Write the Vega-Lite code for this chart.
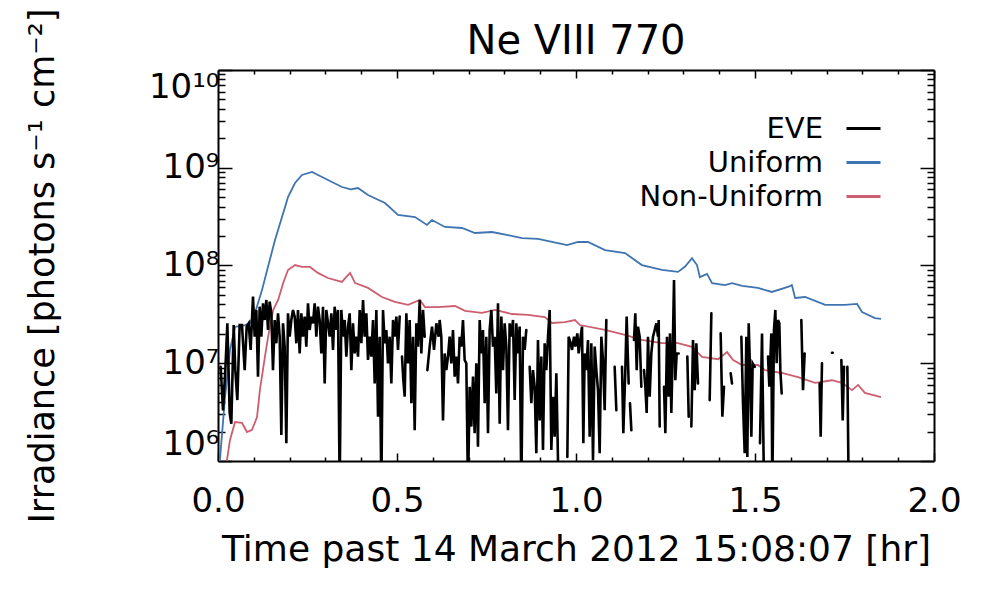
{
  "$schema": "https://vega.github.io/schema/vega-lite/v6.json",
  "width": 716,
  "height": 391,
  "autosize": {"type": "none"},
  "padding": {"left": 218, "top": 70, "right": 66, "bottom": 139},
  "background": "white",
  "title": {"text": "Ne VIII 770", "fontSize": 40, "fontWeight": "normal", "font": "DejaVu Sans", "anchor": "middle", "offset": 16, "dy": 70, "color": "black"},
  "config": {
    "font": "DejaVu Sans",
    "view": {"stroke": null},
    "axis": {"grid": false, "domainColor": "black", "tickColor": "black", "labelColor": "black", "titleColor": "black", "labelFont": "DejaVu Sans", "titleFont": "DejaVu Sans", "titleFontWeight": "normal"}
  },
  "datasets": {
    "uni": [
      {"t":0.003,"v":8e5},{"t":0.0196,"v":4.5e6},{"t":0.0335,"v":1.37e7},{"t":0.0475,"v":2.35e7},{"t":0.0754,"v":2.46e7},{"t":0.0894,"v":2.58e7},{"t":0.1034,"v":3.27e7},{"t":0.1229,"v":5.6e7},{"t":0.1397,"v":9.7e7},{"t":0.1592,"v":1.82e8},{"t":0.1788,"v":3.13e8},{"t":0.1955,"v":5.0e8},{"t":0.2151,"v":6.98e8},{"t":0.2346,"v":8.43e8},{"t":0.2626,"v":9.05e8},{"t":0.2905,"v":8.04e8},{"t":0.3184,"v":7.15e8},{"t":0.3464,"v":6.35e8},{"t":0.37,"v":6.0e8},{"t":0.391,"v":6.2e8},{"t":0.419,"v":5.26e8},{"t":0.4665,"v":4.36e8},{"t":0.5028,"v":3.29e8},{"t":0.5503,"v":3.13e8},{"t":0.5838,"v":2.6e8},{"t":0.5978,"v":2.92e8},{"t":0.634,"v":2.48e8},{"t":0.6816,"v":2.42e8},{"t":0.7179,"v":2.15e8},{"t":0.7654,"v":2.2e8},{"t":0.81,"v":2.05e8},{"t":0.8492,"v":1.91e8},{"t":0.8939,"v":1.87e8},{"t":0.933,"v":1.74e8},{"t":0.975,"v":1.62e8},{"t":1.0056,"v":1.74e8},{"t":1.0335,"v":1.74e8},{"t":1.081,"v":1.44e8},{"t":1.137,"v":1.34e8},{"t":1.184,"v":1.01e8},{"t":1.24,"v":9.0e7},{"t":1.285,"v":8.6e7},{"t":1.304,"v":9.7e7},{"t":1.324,"v":1.19e8},{"t":1.338,"v":1.01e8},{"t":1.346,"v":7.6e7},{"t":1.366,"v":8.2e7},{"t":1.38,"v":6.6e7},{"t":1.416,"v":6.3e7},{"t":1.436,"v":6.6e7},{"t":1.464,"v":6.2e7},{"t":1.508,"v":5.9e7},{"t":1.547,"v":5.36e7},{"t":1.592,"v":6.03e7},{"t":1.603,"v":6.3e7},{"t":1.612,"v":4.65e7},{"t":1.64,"v":4.76e7},{"t":1.696,"v":3.95e7},{"t":1.751,"v":3.95e7},{"t":1.785,"v":4.04e7},{"t":1.799,"v":3.34e7},{"t":1.835,"v":2.9e7},{"t":1.852,"v":2.84e7}
    ],
    "non": [
      {"t":0.018,"v":8e5},{"t":0.025,"v":1.02e6},{"t":0.0335,"v":1.64e6},{"t":0.0475,"v":2.5e6},{"t":0.067,"v":2.45e6},{"t":0.081,"v":1.98e6},{"t":0.095,"v":2.08e6},{"t":0.109,"v":2.82e6},{"t":0.117,"v":5.3e6},{"t":0.131,"v":1.16e7},{"t":0.14,"v":1.86e7},{"t":0.154,"v":3.5e7},{"t":0.168,"v":4.44e7},{"t":0.182,"v":6.6e7},{"t":0.1955,"v":9.0e7},{"t":0.215,"v":1.01e8},{"t":0.2346,"v":9.66e7},{"t":0.257,"v":9.66e7},{"t":0.279,"v":8.4e7},{"t":0.307,"v":7.45e7},{"t":0.346,"v":6.8e7},{"t":0.369,"v":8.4e7},{"t":0.383,"v":6.6e7},{"t":0.419,"v":5.9e7},{"t":0.458,"v":4.76e7},{"t":0.494,"v":4.24e7},{"t":0.531,"v":3.95e7},{"t":0.564,"v":4.44e7},{"t":0.578,"v":3.76e7},{"t":0.6145,"v":3.76e7},{"t":0.662,"v":3.85e7},{"t":0.69,"v":3.43e7},{"t":0.737,"v":3.27e7},{"t":0.774,"v":3.51e7},{"t":0.821,"v":3.19e7},{"t":0.866,"v":3.12e7},{"t":0.913,"v":2.97e7},{"t":0.933,"v":2.58e7},{"t":0.969,"v":2.64e7},{"t":0.997,"v":2.77e7},{"t":1.011,"v":2.46e7},{"t":1.081,"v":2.19e7},{"t":1.137,"v":1.95e7},{"t":1.184,"v":1.73e7},{"t":1.24,"v":1.61e7},{"t":1.285,"v":1.61e7},{"t":1.324,"v":1.47e7},{"t":1.352,"v":1.16e7},{"t":1.397,"v":1.1e7},{"t":1.422,"v":1.3e7},{"t":1.439,"v":1.08e7},{"t":1.464,"v":9.6e6},{"t":1.508,"v":9.6e6},{"t":1.528,"v":8.5e6},{"t":1.575,"v":7.95e6},{"t":1.62,"v":7.2e6},{"t":1.668,"v":6.3e6},{"t":1.715,"v":6.7e6},{"t":1.743,"v":6.3e6},{"t":1.771,"v":5.3e6},{"t":1.788,"v":6.0e6},{"t":1.807,"v":4.97e6},{"t":1.852,"v":4.5e6}
    ],
    "eve": [
      {"t":0.0074,"v":9.2e6},{"t":0.014,"v":3.3e6},{"t":0.0205,"v":8.5e6},{"t":0.0261,"v":2.56e7},{"t":0.0326,"v":3.1e6},{"t":0.0372,"v":2.4e6},{"t":0.0438,"v":2.46e7},{"t":0.0484,"v":8.5e6},{"t":0.054,"v":4.2e6},{"t":0.0605,"v":2.46e7},{"t":0.067,"v":2.46e7},{"t":0.0745,"v":8.5e6},{"t":0.0801,"v":2.37e7},{"t":0.0857,"v":2.56e7},{"t":0.0912,"v":1.37e7},{"t":0.0978,"v":4.8e7},{"t":0.1024,"v":1.87e7},{"t":0.1071,"v":3.51e7},{"t":0.1117,"v":7.3e6},{"t":0.1164,"v":3.79e7},{"t":0.121,"v":1.87e7},{"t":0.1257,"v":4.1e7},{"t":0.1304,"v":2.77e7},{"t":0.135,"v":4.44e7},{"t":0.1397,"v":2.19e7},{"t":0.1443,"v":4.27e7},{"t":0.149,"v":3.24e7},{"t":0.1536,"v":8.5e6},{"t":0.1583,"v":2.77e7},{"t":0.1629,"v":1.6e7},{"t":0.1676,"v":3.24e7},{"t":0.1723,"v":1.87e7},{"t":0.1769,"v":1.85e6},{"t":0.1816,"v":2.56e7},{"t":0.1862,"v":1.48e7},{"t":0.1909,"v":1.52e6},{"t":0.1955,"v":3.24e7},{"t":0.2002,"v":1.87e7},{"t":0.2048,"v":2.77e7},{"t":0.2095,"v":3.51e7},{"t":0.2142,"v":3.0e7},{"t":0.2188,"v":1.6e7},{"t":0.2235,"v":3.51e7},{"t":0.2281,"v":1.26e7},{"t":0.2328,"v":3.24e7},{"t":0.2374,"v":1.87e7},{"t":0.2421,"v":3.0e7},{"t":0.2467,"v":1.48e7},{"t":0.2514,"v":4.1e7},{"t":0.2561,"v":2.19e7},{"t":0.2607,"v":3.0e7},{"t":0.2654,"v":2.56e7},{"t":0.27,"v":4.1e7},{"t":0.2747,"v":1.87e7},{"t":0.2793,"v":3.79e7},{"t":0.284,"v":2.77e7},{"t":0.2886,"v":1.26e7},{"t":0.2933,"v":3.79e7},{"t":0.298,"v":6.2e6},{"t":0.3026,"v":3.51e7},
      {"t":0.312,"v":1.87e7},{"t":0.3166,"v":3.24e7},{"t":0.3213,"v":1.37e7},{"t":0.3259,"v":3.79e7},{"t":0.3306,"v":2.19e7},{"t":0.3352,"v":3.51e7},{"t":0.3399,"v":5e5},{"t":0.3445,"v":3.51e7},{"t":0.3492,"v":1.87e7},{"t":0.3539,"v":2.77e7},{"t":0.3585,"v":1.17e7},{"t":0.3632,"v":2.37e7},{"t":0.3678,"v":3.24e7},{"t":0.3725,"v":8.5e6},{"t":0.3771,"v":2.56e7},{"t":0.3818,"v":1.26e7},{"t":0.3864,"v":1.87e7},{"t":0.3911,"v":1.17e7},{"t":0.3958,"v":3.51e7},{"t":0.4004,"v":1.6e7},{"t":0.4051,"v":4.44e7},{"t":0.4097,"v":1.87e7},{"t":0.4144,"v":3.24e7},{"t":0.419,"v":1.08e7},{"t":0.4237,"v":1.87e7},{"t":0.4283,"v":1.17e7},{"t":0.433,"v":2.77e7},{"t":0.4377,"v":6.2e6},{"t":0.4423,"v":3.51e7},{"t":0.447,"v":2.84e6},{"t":0.4516,"v":1.87e7},{"t":0.4563,"v":5e5},{"t":0.4609,"v":3.51e7},{"t":0.4656,"v":1.6e7},{"t":0.4702,"v":2.19e7},{"t":0.4749,"v":9.98e6},{"t":0.4796,"v":1.87e7},{"t":0.4842,"v":6.2e6},{"t":0.4889,"v":2.77e7},{"t":0.4935,"v":1.87e7},{"t":0.4982,"v":3.0e7},{"t":0.5028,"v":1.37e7},{"t":0.5075,"v":3.0e7},{"t":0.51,"v":null},{"t":0.514,"v":1.17e7},{"t":0.5177,"v":6.7e6},{"t":0.5215,"v":4.55e6},{"t":0.5261,"v":3.24e7},{"t":0.5308,"v":9.98e6},{"t":0.5354,"v":2.77e7},{"t":0.5401,"v":3.9e6},{"t":0.5447,"v":1.87e7},{"t":0.5494,"v":2.07e6},{"t":0.554,"v":2.56e7},{"t":0.5587,"v":1.48e7},{"t":0.5634,"v":4.44e7},{"t":0.568,"v":1.26e7},{"t":0.5727,"v":3.51e7},{"t":0.5773,"v":1.87e7},{"t":0.58,"v":null},{"t":0.5848,"v":8.5e6},{"t":0.5913,"v":1.48e7},{"t":0.5978,"v":2.37e7},{"t":0.6034,"v":1.37e7},{"t":0.6099,"v":2.56e7},{"t":0.6164,"v":1.87e7},
      {"t":0.6192,"v":2.77e7},{"t":0.6238,"v":1.87e7},{"t":0.6285,"v":2.6e6},{"t":0.6331,"v":1.26e7},{"t":0.6378,"v":8.5e6},{"t":0.6424,"v":1.17e7},{"t":0.6471,"v":1.87e7},{"t":0.6517,"v":9.98e6},{"t":0.6564,"v":2.19e7},{"t":0.6611,"v":7.3e6},{"t":0.6657,"v":1.17e7},{"t":0.6704,"v":6.2e6},{"t":0.675,"v":1.87e7},{"t":0.6797,"v":1.48e7},{"t":0.6843,"v":2.77e7},{"t":0.689,"v":1.08e7},{"t":0.6936,"v":9.98e6},{"t":0.6983,"v":5e5},{"t":0.703,"v":5.75e6},{"t":0.7076,"v":2.25e6},{"t":0.7123,"v":7.3e6},{"t":0.7169,"v":1.92e6},{"t":0.7216,"v":9.98e6},{"t":0.7262,"v":1.4e6},{"t":0.7309,"v":2.77e7},{"t":0.7355,"v":1.26e7},{"t":0.7402,"v":2.19e7},{"t":0.7449,"v":3.9e6},{"t":0.7495,"v":1.87e7},{"t":0.7542,"v":1.92e6},{"t":0.7588,"v":2.19e7},{"t":0.7635,"v":3.51e7},{"t":0.7681,"v":1.48e7},{"t":0.7728,"v":1.87e7},{"t":0.7774,"v":4.9e6},{"t":0.7821,"v":4.1e7},{"t":0.7868,"v":2.4e6},{"t":0.7914,"v":3.0e7},{"t":0.7961,"v":8.5e6},{"t":0.8007,"v":2.56e7},{"t":0.8054,"v":1.48e7},{"t":0.81,"v":2.07e6},{"t":0.8147,"v":2.56e7},{"t":0.8193,"v":1.87e7},{"t":0.824,"v":2.77e7},{"t":0.8287,"v":4.2e6},{"t":0.8333,"v":2.56e7},{"t":0.838,"v":1.26e7},{"t":0.8426,"v":2.37e7},{"t":0.8473,"v":5e5},{"t":0.8519,"v":1.87e7},{"t":0.8566,"v":1.37e7},{"t":0.8612,"v":2.19e7},{"t":0.865,"v":null},{"t":0.8706,"v":9.2e6},{"t":0.8752,"v":3.9e6},{"t":0.8799,"v":8.5e6},{"t":0.8845,"v":5.75e6},{"t":0.8892,"v":1.2e6},{"t":0.8938,"v":1.73e7},{"t":0.8985,"v":2.6e6},{"t":0.9031,"v":1.17e7},{"t":0.9078,"v":1.3e6},{"t":0.9125,"v":1.6e7},{"t":0.9171,"v":8.5e6},{"t":0.9218,"v":1.87e7},
      {"t":0.9265,"v":3.51e7},{"t":0.9311,"v":1.3e6},{"t":0.9358,"v":4.55e6},{"t":0.9404,"v":1.77e6},{"t":0.9451,"v":7.9e6},{"t":0.9497,"v":1.02e6},{"t":0.955,"v":null},{"t":0.9758,"v":1.1e6},{"t":0.9795,"v":1.87e7},{"t":0.9851,"v":1.6e7},{"t":0.9888,"v":1.37e7},{"t":0.9944,"v":1.87e7},{"t":0.9981,"v":1.48e7},{"t":1.0037,"v":2.02e7},{"t":1.0075,"v":1.26e7},{"t":1.013,"v":1.87e7},{"t":1.0168,"v":2.37e7},{"t":1.0205,"v":1.52e6},{"t":1.0242,"v":1.26e7},{"t":1.0289,"v":8.5e6},{"t":1.0335,"v":1.73e7},{"t":1.0382,"v":1.77e6},{"t":1.0428,"v":1.6e7},{"t":1.0475,"v":1.02e6},{"t":1.0522,"v":1.48e7},{"t":1.0568,"v":8.5e6},{"t":1.0615,"v":5.3e6},{"t":1.0661,"v":1.2e6},{"t":1.0708,"v":1.87e7},{"t":1.0754,"v":1.08e7},{"t":1.0801,"v":3.3e6},{"t":1.0847,"v":2.77e7},{"t":1.09,"v":null},{"t":1.108,"v":9.2e6},{"t":1.1127,"v":3.3e6},{"t":1.12,"v":null},{"t":1.1285,"v":9.2e6},{"t":1.1322,"v":1.92e6},{"t":1.1378,"v":8.5e6},{"t":1.1415,"v":3.0e7},{"t":1.1471,"v":6.2e6},{"t":1.149,"v":null},{"t":1.1508,"v":3.9e6},{"t":1.1546,"v":2.07e6},{"t":1.157,"v":null},{"t":1.162,"v":1.73e7},{"t":1.1657,"v":3.24e7},{"t":1.1695,"v":8.5e6},{"t":1.1732,"v":2.37e7},{"t":1.1778,"v":1.87e7},{"t":1.1825,"v":5.75e6},{"t":1.186,"v":null},{"t":1.19,"v":8.5e6},{"t":1.1937,"v":5.75e6},{"t":1.1974,"v":3.1e6},{"t":1.2011,"v":1.87e7},{"t":1.2058,"v":4.55e6},{"t":1.2104,"v":1.26e7},{"t":1.2151,"v":1.87e7},{"t":1.2198,"v":2.19e7},{"t":1.2244,"v":2.56e7},{"t":1.2291,"v":1.87e7},
      {"t":1.231,"v":2.77e7},{"t":1.2338,"v":2.25e6},{"t":1.237,"v":null},{"t":1.2459,"v":5.75e6},{"t":1.2496,"v":1.92e6},{"t":1.2542,"v":1.87e7},{"t":1.2589,"v":4.55e6},{"t":1.2626,"v":2.02e7},{"t":1.2663,"v":3.1e6},{"t":1.27,"v":1.26e7},{"t":1.2738,"v":7.1e7},{"t":1.2775,"v":6.7e6},{"t":1.2812,"v":1.26e7},{"t":1.2868,"v":1.26e7},{"t":1.29,"v":null},{"t":1.311,"v":1.17e7},{"t":1.3148,"v":2.84e6},{"t":1.317,"v":null},{"t":1.3222,"v":2.25e6},{"t":1.3269,"v":1.73e7},{"t":1.3315,"v":5.3e6},{"t":1.3362,"v":1.6e7},{"t":1.3408,"v":6.2e6},{"t":1.345,"v":null},{"t":1.3734,"v":4.2e6},{"t":1.3781,"v":3.24e7},{"t":1.382,"v":null},{"t":1.4041,"v":2.02e7},{"t":1.4088,"v":2.84e6},{"t":1.4134,"v":5.75e6},{"t":1.417,"v":null},{"t":1.4321,"v":7.9e6},{"t":1.4358,"v":6.2e6},{"t":1.44,"v":null},{"t":1.4619,"v":1.87e7},{"t":1.4665,"v":3.9e6},{"t":1.4712,"v":1.2e6},{"t":1.4758,"v":1.87e7},{"t":1.4786,"v":1.1e6},{"t":1.4824,"v":2.56e7},{"t":1.4861,"v":8.5e6},{"t":1.4898,"v":1.77e6},{"t":1.4935,"v":9.98e6},{"t":1.4991,"v":9.2e6},{"t":1.502,"v":null},{"t":1.514,"v":1.52e6},{"t":1.5196,"v":2.02e7},{"t":1.5252,"v":5e5},{"t":1.53,"v":null},{"t":1.5364,"v":1.17e7},{"t":1.5401,"v":5.75e6},{"t":1.5456,"v":2.02e7},{"t":1.5484,"v":5e5},{"t":1.553,"v":2.19e7},{"t":1.5568,"v":3.51e7},{"t":1.5605,"v":9.98e6},{"t":1.5642,"v":2.77e7},{"t":1.568,"v":2.56e7},{"t":1.5708,"v":8.5e6},{"t":1.5745,"v":4.9e6},{"t":1.58,"v":null},{"t":1.6294,"v":2.77e7},{"t":1.6341,"v":5.3e6},{"t":1.6387,"v":1.26e7},{"t":1.645,"v":null},{"t":1.6806,"v":6.2e6},{"t":1.6834,"v":1.77e6},{"t":1.6871,"v":9.98e6},{"t":1.7,"v":null},{"t":1.7151,"v":1.28e7},{"t":1.7172,"v":1.28e7},{"t":1.72,"v":null},{"t":1.7412,"v":1.08e7},{"t":1.745,"v":2.6e6},{"t":1.7486,"v":9.2e6},{"t":1.752,"v":null},{"t":1.758,"v":9.2e6},{"t":1.7617,"v":5e5}
    ]
  },
  "layer": [
    {
      "data": {"name": "uni"},
      "mark": {"type": "line", "strokeWidth": 1.8, "clip": true},
      "encoding": {
        "x": {"field": "t", "type": "quantitative", "scale": {"domain": [0, 2], "nice": false, "zero": false},
              "axis": {"orient": "bottom", "values": [0, 0.5, 1, 1.5, 2], "format": ".1f", "labelFlush": false, "tickSize": -8, "tickWidth": 1.5, "domainWidth": 2, "labelFontSize": 34, "labelPadding": 31, "title": "Time past 14 March 2012 15:08:07 [hr]", "titleFontSize": 36, "titlePadding": 14}},
        "y": {"field": "v", "type": "quantitative", "scale": {"type": "log", "domain": [1e6, 1e10], "nice": false},
              "axis": {"orient": "left", "values": [1e6, 1e7, 1e8, 1e9, 1e10], "labelExpr": "datum.value > 5e9 ? '10¹⁰' : datum.value > 5e8 ? '10⁹' : datum.value > 5e7 ? '10⁸' : datum.value > 5e6 ? '10⁷' : '10⁶'", "tickSize": -14, "tickWidth": 1.5, "domainWidth": 2, "labelFontSize": 34, "labelPadding": 13, "labelFlush": true, "title": "Irradiance [photons s⁻¹ cm⁻²]", "titleFontSize": 35, "titlePadding": 88}},
        "color": {"datum": "Uniform", "type": "nominal",
                  "scale": {"domain": ["EVE", "Uniform", "Non-Uniform"], "range": ["#000000", "#3f74b1", "#cd5e70"]},
                  "legend": {"orient": "none", "legendX": 627, "legendY": 40, "title": null, "symbolType": "stroke", "symbolSize": 1156, "symbolStrokeWidth": 3, "labelAlign": "right", "labelOffset": -59, "labelFontSize": 29, "labelFont": "DejaVu Sans", "labelColor": "black", "rowPadding": 0, "labelLimit": 400}}
      }
    },
    {
      "data": {"name": "non"},
      "mark": {"type": "line", "strokeWidth": 1.8, "clip": true},
      "encoding": {
        "x": {"field": "t", "type": "quantitative", "scale": {"domain": [0, 2], "nice": false, "zero": false},
              "axis": {"orient": "top", "values": [0, 0.5, 1, 1.5, 2], "labels": false, "tickSize": -8, "tickWidth": 1.5, "domainWidth": 2, "title": null}},
        "y": {"field": "v", "type": "quantitative", "scale": {"type": "log", "domain": [1e6, 1e10], "nice": false},
              "axis": {"orient": "right", "values": [1e6, 1e7, 1e8, 1e9, 1e10], "labels": false, "tickSize": -14, "tickWidth": 1.5, "domainWidth": 2, "title": null}},
        "color": {"datum": "Non-Uniform", "type": "nominal"}
      }
    },
    {
      "data": {"name": "eve"},
      "mark": {"type": "line", "strokeWidth": 2.6, "clip": true, "strokeCap": "round", "invalid": "break-paths-filter-domains"},
      "encoding": {
        "x": {"field": "t", "type": "quantitative", "scale": {"domain": [0, 2], "nice": false, "zero": false},
              "axis": {"orient": "bottom", "values": [0.1,0.2,0.3,0.4,0.6,0.7,0.8,0.9,1.1,1.2,1.3,1.4,1.6,1.7,1.8,1.9], "labels": false, "domain": false, "tickSize": -4, "tickWidth": 1.5, "title": null}},
        "y": {"field": "v", "type": "quantitative", "scale": {"type": "log", "domain": [1e6, 1e10], "nice": false},
              "axis": {"orient": "left", "values": [2e6,3e6,4e6,5e6,6e6,7e6,8e6,9e6,2e7,3e7,4e7,5e7,6e7,7e7,8e7,9e7,2e8,3e8,4e8,5e8,6e8,7e8,8e8,9e8,2e9,3e9,4e9,5e9,6e9,7e9,8e9,9e9], "labels": false, "domain": false, "tickSize": -7, "tickWidth": 1.5, "title": null}},
        "color": {"datum": "EVE", "type": "nominal"}
      }
    },
    {
      "data": {"name": "uni"},
      "mark": {"type": "line", "opacity": 0, "clip": true},
      "encoding": {
        "x": {"field": "t", "type": "quantitative", "scale": {"domain": [0, 2], "nice": false, "zero": false},
              "axis": {"orient": "top", "values": [0.1,0.2,0.3,0.4,0.6,0.7,0.8,0.9,1.1,1.2,1.3,1.4,1.6,1.7,1.8,1.9], "labels": false, "domain": false, "tickSize": -4, "tickWidth": 1.5, "title": null}},
        "y": {"field": "v", "type": "quantitative", "scale": {"type": "log", "domain": [1e6, 1e10], "nice": false},
              "axis": {"orient": "right", "values": [2e6,3e6,4e6,5e6,6e6,7e6,8e6,9e6,2e7,3e7,4e7,5e7,6e7,7e7,8e7,9e7,2e8,3e8,4e8,5e8,6e8,7e8,8e8,9e8,2e9,3e9,4e9,5e9,6e9,7e9,8e9,9e9], "labels": false, "domain": false, "tickSize": -7, "tickWidth": 1.5, "title": null}}
      }
    }
  ],
  "resolve": {"axis": {"x": "independent", "y": "independent"}}
}
